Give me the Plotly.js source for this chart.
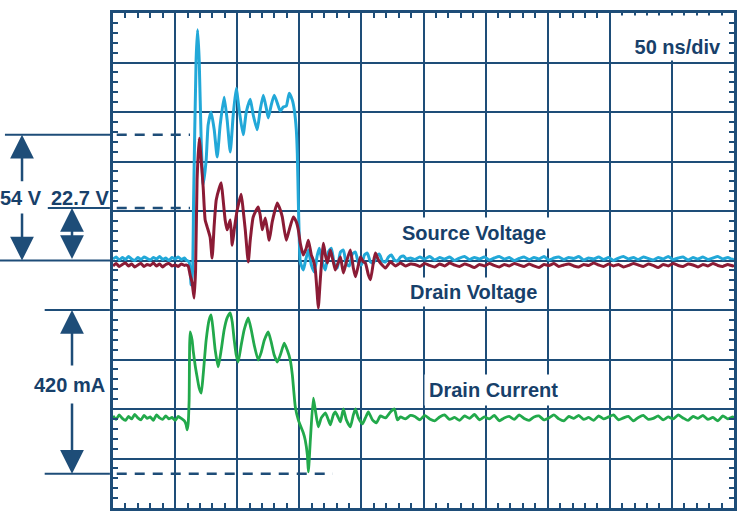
<!DOCTYPE html>
<html>
<head>
<meta charset="utf-8">
<script src="https://cdn.plot.ly/plotly-3.0.1.min.js"></script>
<style>html,body{margin:0;padding:0;background:#fff;}#chart{width:743px;height:514px;}</style>
</head>
<body>
<div id="chart"></div>
<script>
// time in ns (50 ns/div), amplitude in screen divisions (0 = centre line)
const preT = [0,2.5,5,7.5,10,12.5,15,17.5,20,22.5,25,27.5,30,32.5,35,37.5,40,42.5,45,47.5,50,52.5,55,57.5];
const tailT = [243,247,251,255,259,263,267,271,275,279,
  283,287,291,295,299,303,307,311,315,319,
  323,327,331,335,339,343,347,351,355,359,
  363,367,371,375,379,383,387,391,395,399,
  403,407,411,415,419,423,427,431,435,439,
  443,447,451,455,459,463,467,471,475,479,
  483,487,491,495,499,500];

// Source voltage (cyan)
const srcPre = [0.03,0.07,0.01,0.06,0.02,0.08,0.03,0.00,0.06,0.02,0.07,0.04,0.01,0.06,0.03,0.08,0.02,0.05,0.00,0.06,0.03,0.07,0.02,0.05];
const srcPulseT = [58.9,61.3,62.9,64.1,64.9,66.9,68.1,69.4,71.0,72.6,75.0,76.6,79.0,81.5,83.9,86.3,89.5,91.9,94.4,96.8,99.2,101.6,104.8,107.3,110.5,112.9,116.1,118.5,121.0,123.4,125.0,127.4,129.8,132.3,134.7,137.1,139.5,141.9,144.4,146.0,147.6,148.4,149.2,150.0,150.8,153.2,154.8,157.3,159.7,162.1,164.5,166.1,168.5,171.0,173.4,175.8,178.2,180.6,183.1,185.5,187.9,190.3,192.7,195.2,197.6,200.0,202.4,204.8,207.3,209.7,212.1,214.5,216.9,219.4,221.8,224.2,226.6,229.0,231.5,233.9,236.3,239.5];
const srcPulseV = [0.01,-0.03,-0.49,-0.19,1.22,4.05,4.66,4.05,2.43,1.53,2.03,2.74,3.00,2.64,2.09,2.74,3.30,2.84,2.19,2.94,3.48,3.04,2.54,3.00,3.26,2.94,2.64,3.04,3.34,3.08,2.88,3.14,3.34,3.18,3.02,3.10,3.12,3.38,3.24,3.04,2.64,2.17,1.22,0.41,-0.03,-0.19,-0.03,0.21,-0.09,-0.23,0.11,0.25,-0.03,-0.19,0.17,0.25,-0.07,-0.15,0.17,0.21,-0.07,-0.11,0.13,0.17,-0.05,-0.09,0.11,0.15,-0.03,-0.05,0.09,0.13,-0.01,-0.03,0.07,0.11,0.01,-0.01,0.07,0.09,0.03,0.05];
const srcTail = [0.02,0.07,0.03,0.08,0.01,0.06,0.03,0.07,0.00,0.05,
  0.08,0.02,0.06,0.03,0.07,0.01,0.05,0.08,0.03,0.06,
  0.00,0.04,0.07,0.02,0.06,0.03,0.08,0.01,0.05,0.07,
  0.02,0.06,0.04,0.08,0.01,0.05,0.03,0.07,0.02,0.06,
  0.00,0.05,0.08,0.03,0.06,0.02,0.07,0.04,0.01,0.06,
  0.03,0.08,0.02,0.05,0.07,0.01,0.06,0.03,0.07,0.02,
  0.05,0.08,0.03,0.06,0.02,0.04];

// Drain voltage (dark red)
const drnPre = [-0.11,-0.06,-0.12,-0.08,-0.05,-0.11,-0.07,-0.13,-0.09,-0.06,-0.12,-0.08,-0.10,-0.05,-0.11,-0.07,-0.13,-0.08,-0.06,-0.11,-0.09,-0.12,-0.07,-0.10];
const drnPulseT = [58.9,60.5,62.1,63.7,65.3,66.5,67.7,69.4,71.0,72.6,74.2,75.8,78.2,79.8,81.5,83.1,85.5,87.1,88.7,90.3,91.9,94.4,96.0,97.6,100.0,103.2,104.8,106.5,108.9,110.5,112.9,116.9,118.5,120.2,122.6,125.8,128.2,132.3,134.7,136.3,139.5,141.9,145.2,147.6,149.2,150.8,153.2,155.6,157.3,159.7,161.3,162.9,164.5,165.3,166.9,169.4,171.0,172.6,175.0,177.4,179.0,181.5,183.1,185.5,187.9,191.1,193.5,195.2,197.6,199.2,201.6,203.2,205.6,207.3,209.7,211.3,213.7,215.3,219.4,223.4,227.4,231.5,235.5,239.5];
const drnPulseV = [-0.09,-0.11,-0.29,-0.45,-0.76,-0.19,1.63,2.47,2.03,1.48,0.82,0.68,0.47,0.05,0.72,1.22,1.46,1.57,1.22,0.82,0.62,0.82,0.31,0.62,1.02,1.34,1.02,0.62,-0.03,0.41,0.88,1.08,0.92,0.62,0.86,0.41,0.78,1.16,1.02,0.88,0.41,0.62,0.88,0.78,0.62,0.35,0.11,0.25,0.41,0.11,0.01,-0.19,-0.70,-0.96,-0.39,0.35,0.11,-0.05,0.21,-0.03,-0.19,-0.03,0.07,-0.25,-0.03,0.21,-0.15,-0.33,-0.09,0.07,-0.03,-0.05,-0.29,-0.39,-0.03,0.15,0.01,-0.05,-0.15,-0.03,-0.11,-0.05,-0.11,-0.07];
const drnTail = [-0.08,-0.12,-0.06,-0.10,-0.13,-0.07,-0.11,-0.05,-0.09,-0.12,
  -0.07,-0.10,-0.14,-0.08,-0.11,-0.06,-0.10,-0.13,-0.08,-0.11,
  -0.06,-0.09,-0.12,-0.07,-0.11,-0.14,-0.08,-0.10,-0.06,-0.12,
  -0.09,-0.07,-0.11,-0.13,-0.08,-0.10,-0.05,-0.09,-0.12,-0.07,
  -0.11,-0.08,-0.13,-0.10,-0.06,-0.09,-0.12,-0.07,-0.10,-0.14,
  -0.08,-0.11,-0.06,-0.10,-0.12,-0.07,-0.09,-0.13,-0.08,-0.11,
  -0.06,-0.10,-0.12,-0.08,-0.11,-0.09];

// Drain current (green)
const curPre = [-3.14,-3.21,-3.12,-3.19,-3.23,-3.15,-3.20,-3.11,-3.18,-3.22,-3.13,-3.19,-3.16,-3.23,-3.12,-3.18,-3.21,-3.14,-3.20,-3.17,-3.23,-3.15,-3.19,-3.24];
const curPulseT = [58.9,59.7,60.5,61.3,62.1,63.7,64.5,66.1,67.7,69.4,71.0,72.6,75.0,77.4,79.0,80.6,82.3,84.7,87.1,89.5,91.9,94.4,96.0,97.6,99.2,100.8,103.2,105.6,108.9,111.3,113.7,116.9,119.4,121.8,125.0,127.4,129.8,132.3,134.7,137.9,140.3,142.7,144.4,146.8,149.2,151.6,153.2,154.8,156.5,157.3,158.9,161.3,162.9,165.3,167.7,171.0,173.4,175.0,177.4,179.0,181.5,183.1,185.5,187.9,191.1,193.5,195.2,197.6,200.8,203.2,205.6,208.9,212.1,215.3,219.4,223.4,226.6,229.0,231.5,235.5,239.5];
const curPulseV = [-3.32,-3.42,-3.30,-2.82,-1.44,-1.61,-1.81,-2.11,-2.35,-2.58,-2.68,-2.31,-1.61,-1.20,-1.10,-1.40,-1.81,-2.15,-1.81,-1.40,-1.16,-1.06,-1.24,-1.61,-1.91,-2.05,-1.71,-1.40,-1.16,-1.40,-1.71,-2.01,-1.85,-1.61,-1.44,-1.65,-1.91,-2.05,-1.91,-1.67,-1.81,-2.01,-2.31,-2.96,-3.22,-3.38,-3.48,-3.63,-3.93,-4.27,-3.63,-2.78,-3.02,-3.36,-3.18,-3.08,-3.22,-3.32,-3.12,-3.06,-3.18,-3.26,-3.00,-3.22,-3.36,-3.12,-3.00,-3.18,-3.30,-3.18,-3.06,-3.22,-3.28,-3.14,-3.18,-3.06,-3.00,-3.22,-3.16,-3.20,-3.13];
const curTail = [-3.15,-3.22,-3.13,-3.20,-3.24,-3.16,-3.12,-3.21,-3.17,-3.23,
  -3.14,-3.19,-3.11,-3.22,-3.16,-3.20,-3.13,-3.24,-3.18,-3.15,
  -3.21,-3.12,-3.19,-3.23,-3.16,-3.14,-3.22,-3.18,-3.12,-3.20,
  -3.24,-3.15,-3.19,-3.13,-3.21,-3.17,-3.23,-3.14,-3.20,-3.16,
  -3.12,-3.22,-3.18,-3.15,-3.24,-3.17,-3.13,-3.21,-3.19,-3.14,
  -3.22,-3.16,-3.20,-3.12,-3.18,-3.23,-3.15,-3.19,-3.13,-3.21,
  -3.17,-3.24,-3.14,-3.20,-3.16,-3.18];

// marker levels (divisions)
const srcPeakLevel = 2.54;   // 54 V
const drnPeakLevel = 1.06;   // 22.7 V
const curTopLevel = -1.0;    // 420 mA span top
const curMinLevel = -4.31;   // 420 mA span bottom
const labels = ["Source Voltage", "Drain Voltage", "Drain Current"];
const spanLabels = ["54 V", "22.7 V", "420 mA"];
const timebase = "50 ns/div";

const NAVY = '#1e4d78', TXT = '#17406a';
const CYAN = '#22a8d8', RED = '#8b1b35', GREEN = '#22a94b';
const FONT = {family: 'Liberation Sans, Arial, sans-serif', size: 20, color: TXT, weight: 700};

const traces = [
  {x: preT.concat(srcPulseT, tailT), y: srcPre.concat(srcPulseV, srcTail), type: 'scatter', mode: 'lines',
    line: {color: CYAN, width: 3, shape: 'spline', smoothing: 0.5}, hoverinfo: 'skip'},
  {x: preT.concat(drnPulseT, tailT), y: drnPre.concat(drnPulseV, drnTail), type: 'scatter', mode: 'lines',
    line: {color: RED, width: 3, shape: 'spline', smoothing: 0.5}, hoverinfo: 'skip'},
  {x: preT.concat(curPulseT, tailT), y: curPre.concat(curPulseV, curTail), type: 'scatter', mode: 'lines',
    line: {color: GREEN, width: 2.8, shape: 'spline', smoothing: 0.5}, hoverinfo: 'skip'}
];

const baseX = {range: [0, 500], dtick: 50, tick0: 0, showticklabels: false, zeroline: false, fixedrange: true};
const baseY = {range: [-5, 5], dtick: 1, tick0: 0, showticklabels: false, zeroline: false, fixedrange: true};
function crossAxis(base, side, md) {
  return Object.assign({}, base, {anchor: 'free', position: 0.5, showgrid: false, showline: false,
    ticks: side, ticklen: 3, tickwidth: 2, tickcolor: NAVY,
    minor: {dtick: md, ticks: side, ticklen: 3, tickwidth: 2, tickcolor: NAVY}});
}

const ARW = {showarrow: true, arrowhead: 2, arrowsize: 1.9, arrowwidth: 2.5, arrowcolor: NAVY, standoff: 0,
  xref: 'paper', yref: 'y', axref: 'pixel', ax: 0, ayref: 'y', text: ''};

const layout = {
  width: 743, height: 514,
  margin: {l: 113, r: 9, t: 13, b: 6},
  paper_bgcolor: '#fff', plot_bgcolor: '#fff',
  showlegend: false,
  xaxis: Object.assign({}, baseX, {showgrid: true, gridcolor: NAVY, gridwidth: 2,
    showline: true, linecolor: NAVY, linewidth: 3, mirror: 'allticks',
    ticks: 'inside', ticklen: 5, tickwidth: 2, tickcolor: NAVY,
    minor: {dtick: 10, ticks: 'inside', ticklen: 5, tickwidth: 2, tickcolor: NAVY, showgrid: false}}),
  yaxis: Object.assign({}, baseY, {showgrid: true, gridcolor: NAVY, gridwidth: 2,
    showline: true, linecolor: NAVY, linewidth: 3, mirror: 'allticks',
    ticks: 'inside', ticklen: 5, tickwidth: 2, tickcolor: NAVY,
    minor: {dtick: 0.2, ticks: 'inside', ticklen: 5, tickwidth: 2, tickcolor: NAVY, showgrid: false}}),
  xaxis2: Object.assign(crossAxis(baseX, 'outside', 10), {overlaying: 'x'}),
  xaxis3: Object.assign(crossAxis(baseX, 'inside', 10), {overlaying: 'x'}),
  yaxis2: Object.assign(crossAxis(baseY, 'outside', 0.2), {overlaying: 'y'}),
  yaxis3: Object.assign(crossAxis(baseY, 'inside', 0.2), {overlaying: 'y'}),
  shapes: [
    {type: 'line', xref: 'paper', yref: 'y', x0: -0.174, x1: 0, y0: srcPeakLevel, y1: srcPeakLevel, line: {color: NAVY, width: 2}},
    {type: 'line', xref: 'paper', yref: 'y', x0: -0.105, x1: -0.005, y0: drnPeakLevel, y1: drnPeakLevel, line: {color: NAVY, width: 2}},
    {type: 'line', xref: 'paper', yref: 'y', x0: -0.182, x1: 0, y0: 0, y1: 0, line: {color: NAVY, width: 2}},
    {type: 'line', xref: 'paper', yref: 'y', x0: -0.11, x1: -0.005, y0: curTopLevel, y1: curTopLevel, line: {color: NAVY, width: 2}},
    {type: 'line', xref: 'paper', yref: 'y', x0: -0.11, x1: -0.005, y0: curMinLevel, y1: curMinLevel, line: {color: NAVY, width: 2}},
    {type: 'line', xref: 'x', yref: 'y', x0: 3, x1: 62, y0: srcPeakLevel, y1: srcPeakLevel, line: {color: NAVY, width: 2.5, dash: '10px,8px'}},
    {type: 'line', xref: 'x', yref: 'y', x0: 3, x1: 62, y0: drnPeakLevel, y1: drnPeakLevel, line: {color: NAVY, width: 2.5, dash: '10px,8px'}},
    {type: 'line', xref: 'x', yref: 'y', x0: 3, x1: 177, y0: curMinLevel, y1: curMinLevel, line: {color: NAVY, width: 2.5, dash: '10px,8px'}}
  ],
  annotations: [
    {text: timebase, xref: 'x', yref: 'y', x: 492, y: 4.96, xanchor: 'right', yanchor: 'top', showarrow: false,
      font: FONT, bgcolor: '#fff', width: 100, height: 40, align: 'right', valign: 'bottom', borderpad: 2},
    {text: labels[0], xref: 'x', yref: 'y', x: 291, y: 0.556, xanchor: 'center', showarrow: false, font: FONT, bgcolor: '#fff', borderpad: 4},
    {text: labels[1], xref: 'x', yref: 'y', x: 290, y: -0.636, xanchor: 'center', showarrow: false, font: FONT, bgcolor: '#fff', borderpad: 3},
    {text: labels[2], xref: 'x', yref: 'y', x: 306.5, y: -2.616, xanchor: 'center', showarrow: false, font: FONT, bgcolor: '#fff', borderpad: 4},
    {text: spanLabels[0], xref: 'paper', yref: 'y', x: -0.148, y: 1.26, xanchor: 'center', yanchor: 'middle', showarrow: false, font: FONT},
    {text: spanLabels[1], xref: 'paper', yref: 'y', x: -0.053, y: 1.26, xanchor: 'center', yanchor: 'middle', showarrow: false, font: FONT},
    {text: spanLabels[2], xref: 'paper', yref: 'y', x: -0.070, y: -2.515, xanchor: 'center', yanchor: 'middle', showarrow: false, font: FONT},
    Object.assign({}, ARW, {x: -0.1465, y: srcPeakLevel, ay: 1.57}),
    Object.assign({}, ARW, {x: -0.1465, y: 0, ay: 0.98}),
    Object.assign({}, ARW, {x: -0.066, y: drnPeakLevel, ay: 0, arrowside: 'end+start', startarrowhead: 2, startarrowsize: 1.9, startstandoff: 0}),
    Object.assign({}, ARW, {x: -0.066, y: curTopLevel, ay: -2.15}),
    Object.assign({}, ARW, {x: -0.066, y: curMinLevel, ay: -2.86})
  ]
};

Plotly.newPlot('chart', traces, layout, {staticPlot: true, displayModeBar: false});
</script>
</body>
</html>
